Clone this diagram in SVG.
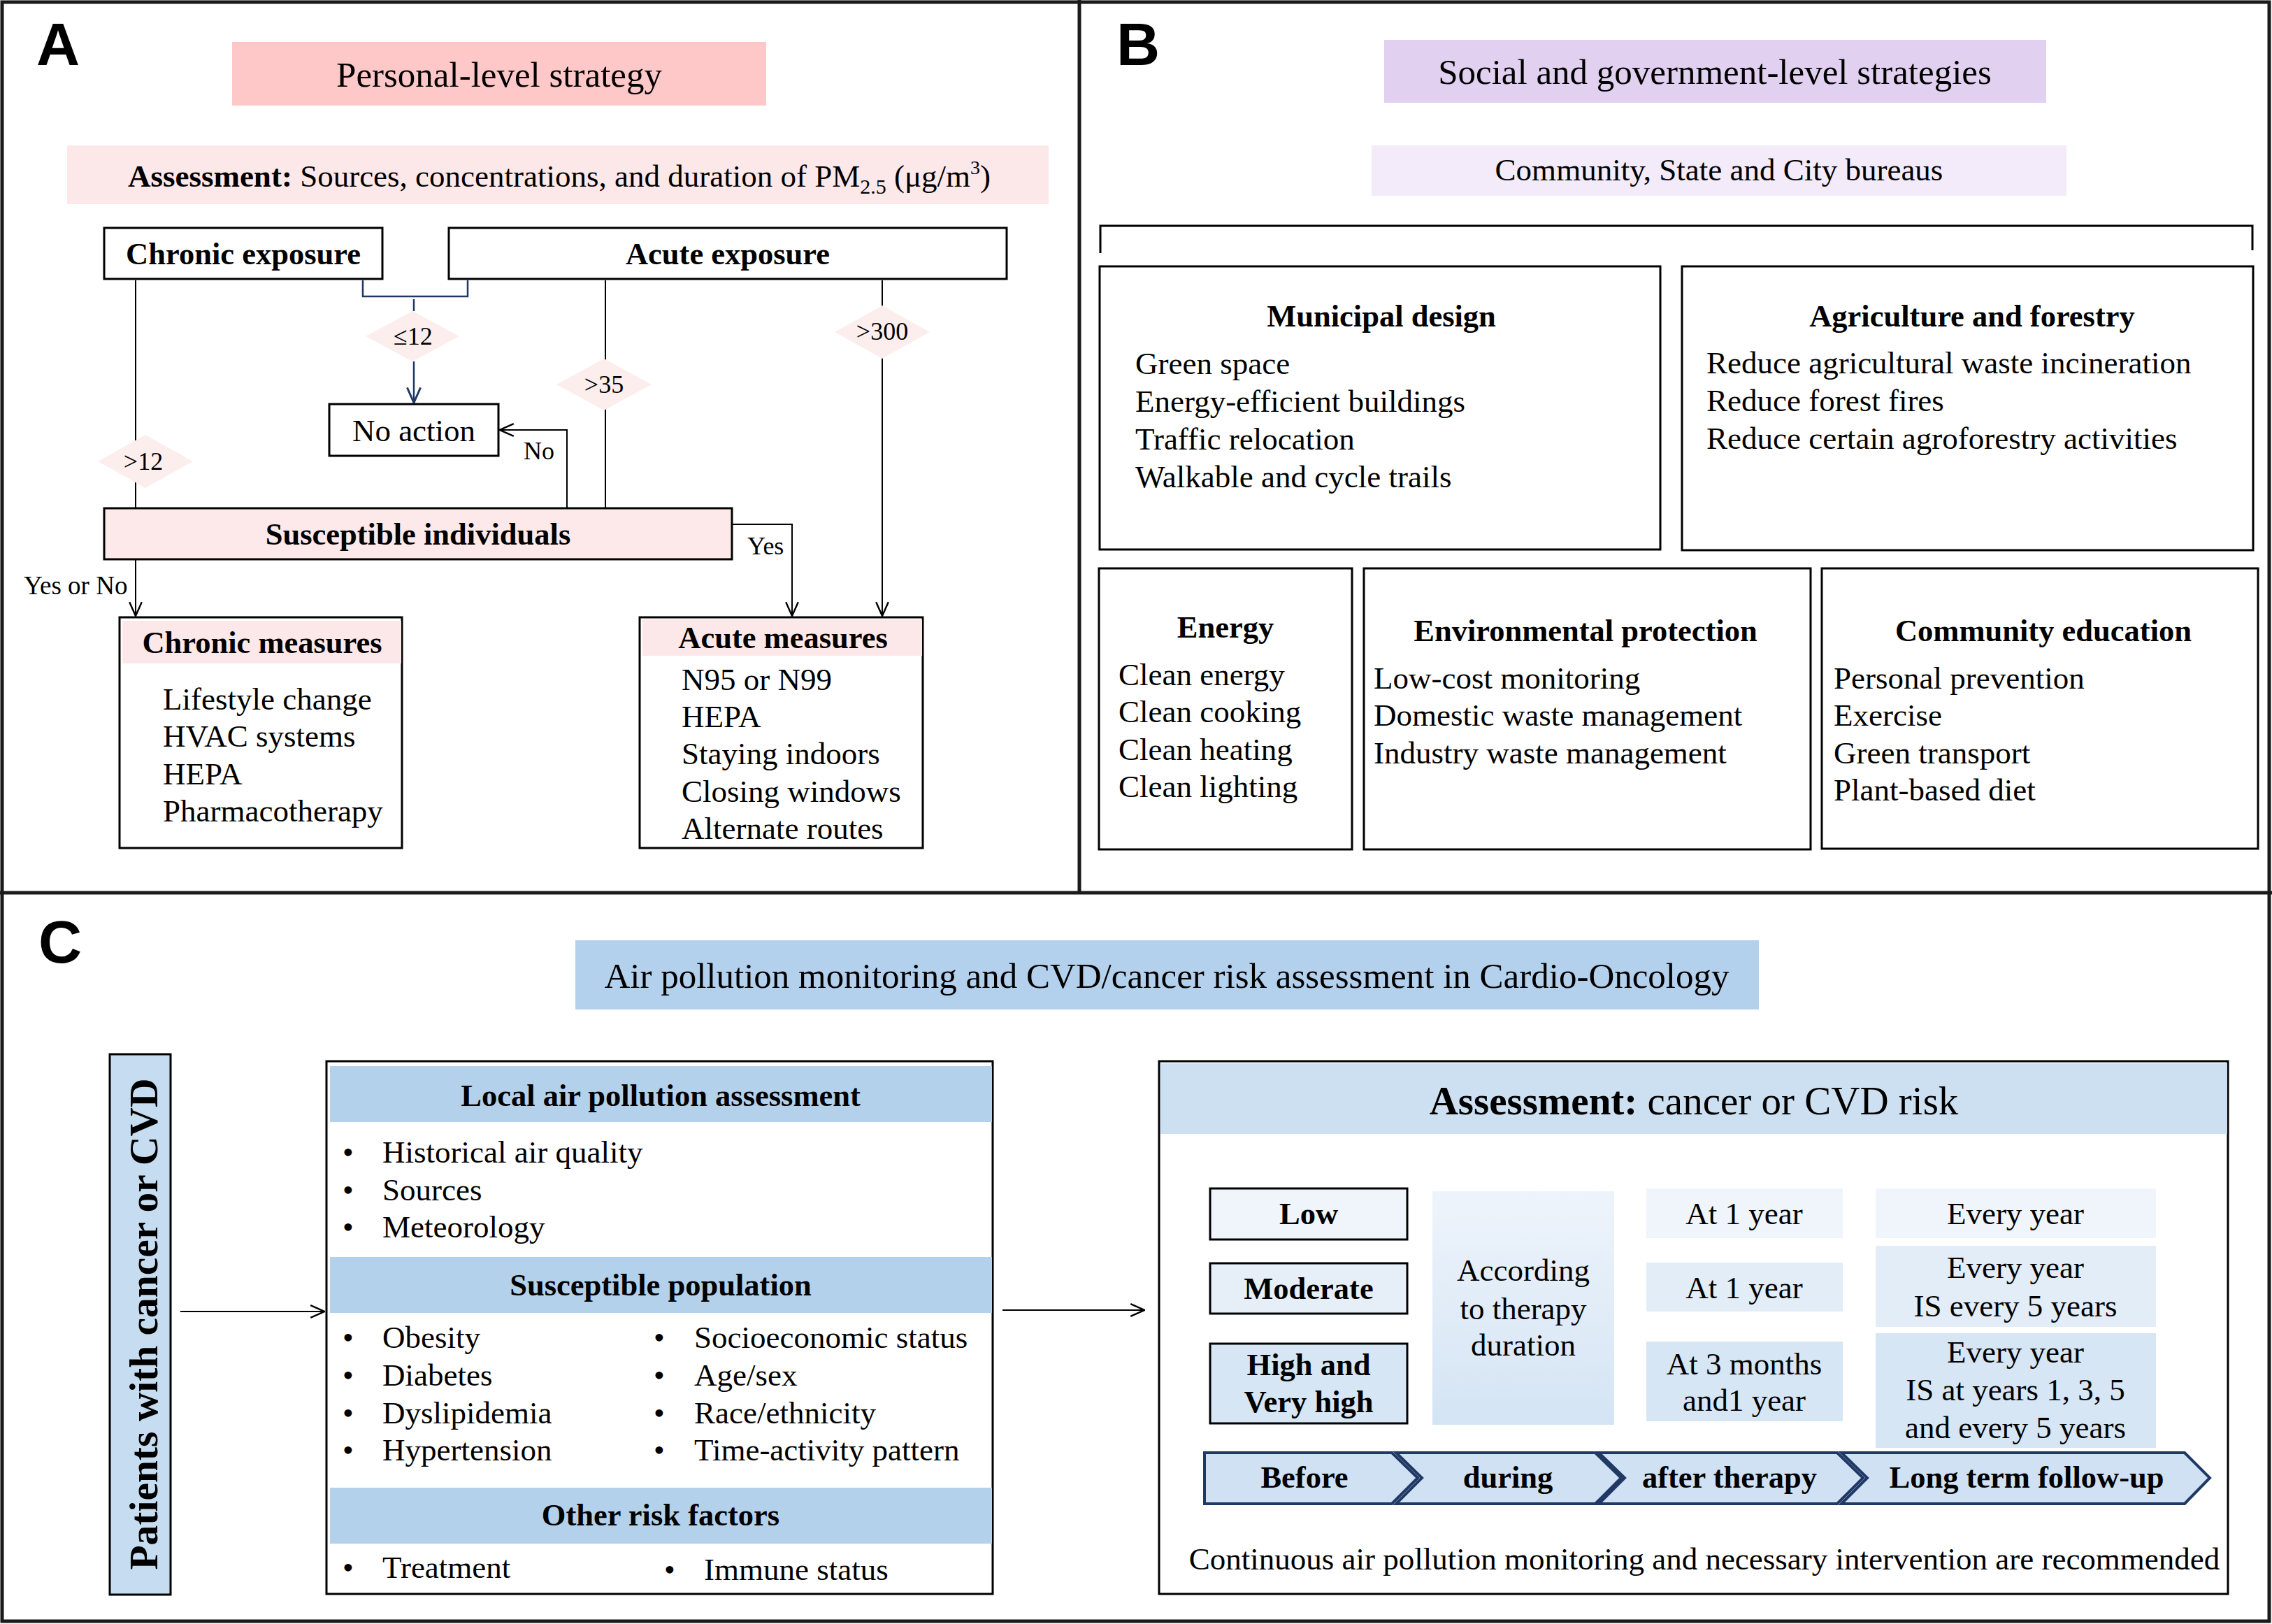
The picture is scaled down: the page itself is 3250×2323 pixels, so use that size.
<svg xmlns="http://www.w3.org/2000/svg" width="3250" height="2323" viewBox="0 0 3250 2323">
<style>
text{font-family:"Liberation Serif","Times New Roman",serif;fill:#000}
.lbl{font-family:"Liberation Sans",Arial,sans-serif;font-weight:bold;font-size:86px}
.t50{font-size:51px}
.t44{font-size:45px}
.b44{font-size:44.5px;font-weight:bold}
.t37{font-size:37px}
.t36{font-size:36px}
.mid{text-anchor:middle}
.box{fill:#fff;stroke:#000;stroke-width:3}
.frame{fill:none;stroke:#1a1a1a;stroke-width:5}
.ln{fill:none;stroke:#000;stroke-width:2}
.bl{fill:none;stroke:#203864;stroke-width:2.5}
.dia{fill:#fdeeee}
.pinkband{fill:#fde8e9}
.blueband{fill:#b4d1ec}
.chev{fill:#cfe1f3;stroke:#1f3864;stroke-width:4;stroke-linejoin:miter}
</style>
<defs>
<marker id="ah" viewBox="0 0 20 20" refX="19" refY="10" markerWidth="22" markerHeight="22" markerUnits="userSpaceOnUse" orient="auto">
<path d="M1,2 L19,10 L1,18" fill="none" stroke="#000" stroke-width="2.2"/>
</marker>
<marker id="ahb" viewBox="0 0 20 20" refX="19" refY="10" markerWidth="24" markerHeight="24" markerUnits="userSpaceOnUse" orient="auto">
<path d="M1,2 L19,10 L1,18" fill="none" stroke="#203864" stroke-width="2.4"/>
</marker>
<linearGradient id="gAcc" x1="0" y1="0" x2="0" y2="1">
<stop offset="0" stop-color="#eef4fb"/>
<stop offset="1" stop-color="#d4e4f4"/>
</linearGradient>
</defs>
<rect width="3250" height="2323" fill="#fff"/>

<g id="frames">
<rect class="frame" x="3" y="3" width="3243" height="2316"/>
<line class="frame" x1="0" y1="1277" x2="3250" y2="1277"/>
<line class="frame" x1="1544" y1="0" x2="1544" y2="1277"/>
<text class="lbl" x="52" y="93">A</text>
<text class="lbl" x="1597" y="93">B</text>
<text class="lbl" x="55" y="1377">C</text>
</g>

<!-- Panel A -->
<g id="personal-title">
<rect x="332" y="60" width="764" height="91" fill="#ffc8c8"/>
<text class="t50 mid" x="714" y="124">Personal-level strategy</text>
</g>
<g id="assessment-pm">
<rect x="96" y="208" width="1404" height="84" fill="#fde8e9"/>
<text class="t44 mid" x="800" y="267"><tspan font-weight="bold">Assessment:</tspan> Sources, concentrations, and duration of PM<tspan font-size="30" dy="10">2.5</tspan><tspan dy="-10"> (μg/m</tspan><tspan font-size="28" dy="-18">3</tspan><tspan dy="18">)</tspan></text>
</g>
<g id="chronic-exposure">
<rect class="box" x="149" y="326" width="398" height="73"/>
<text class="b44 mid" x="348" y="378">Chronic exposure</text>
</g>
<g id="acute-exposure">
<rect class="box" x="642" y="326" width="798" height="73"/>
<text class="b44 mid" x="1041" y="378">Acute exposure</text>
</g>
<g id="no-action">
<rect class="box" x="471" y="578" width="242" height="74"/>
<text class="t44 mid" x="592" y="631">No action</text>
</g>
<g id="susceptible-individuals">
<rect class="box" x="149" y="727" width="898" height="73" style="fill:#fde8ea"/>
<text class="b44 mid" x="598" y="779">Susceptible individuals</text>
</g>
<g id="chronic-measures">
<rect class="box" x="171" y="883" width="404" height="330"/>
<rect class="pinkband" x="175" y="888" width="399" height="61"/>
<text class="b44 mid" x="375" y="934">Chronic measures</text>
<text class="t44" x="233" y="1015">Lifestyle change</text>
<text class="t44" x="233" y="1068">HVAC systems</text>
<text class="t44" x="233" y="1122">HEPA</text>
<text class="t44" x="233" y="1175">Pharmacotherapy</text>
</g>
<g id="acute-measures">
<rect class="box" x="915" y="883" width="405" height="330"/>
<rect class="pinkband" x="919" y="886" width="400" height="52"/>
<text class="b44 mid" x="1120" y="927">Acute measures</text>
<text class="t44" x="975" y="987">N95 or N99</text>
<text class="t44" x="975" y="1040">HEPA</text>
<text class="t44" x="975" y="1093">Staying indoors</text>
<text class="t44" x="975" y="1147">Closing windows</text>
<text class="t44" x="975" y="1200">Alternate routes</text>
</g>

<g id="connectors">
<line class="ln" x1="194" y1="401" x2="194" y2="727"/>
<polyline class="bl" points="519,401 519,424 669,424 669,401"/>
<line class="bl" x1="592" y1="428" x2="592" y2="445"/>
<line class="bl" x1="592" y1="517" x2="592" y2="576" marker-end="url(#ahb)"/>
<line class="ln" x1="866" y1="401" x2="866" y2="727"/>
<line class="ln" x1="1262" y1="401" x2="1262" y2="881" marker-end="url(#ah)"/>
<polyline class="ln" points="811,727 811,615 715,615" marker-end="url(#ah)"/>
<polyline class="ln" points="1047,750 1133,750 1133,881" marker-end="url(#ah)"/>
<line class="ln" x1="194" y1="800" x2="194" y2="881" marker-end="url(#ah)"/>
<line class="ln" x1="258" y1="1876" x2="464" y2="1876" marker-end="url(#ah)"/>
<line class="ln" x1="1434" y1="1874" x2="1637" y2="1874" marker-end="url(#ah)"/>
<text class="t36" x="749" y="657">No</text>
<text class="t36" x="1069" y="793">Yes</text>
<text class="t37" x="34" y="850">Yes or No</text>
</g>

<g id="d-gt12">
<polygon class="dia" points="208,622 276,660 208,698 140,660"/>
<text class="t36 mid" x="205" y="672">&gt;12</text>
</g>
<g id="d-le12">
<polygon class="dia" points="590,445 657,481 590,517 523,481"/>
<text class="t36 mid" x="591" y="493">≤12</text>
</g>
<g id="d-gt35">
<polygon class="dia" points="864,513 932,550 864,587 796,550"/>
<text class="t36 mid" x="864" y="562">&gt;35</text>
</g>
<g id="d-gt300">
<polygon class="dia" points="1262,437 1330,475 1262,513 1194,475"/>
<text class="t36 mid" x="1262" y="486">&gt;300</text>
</g>

<!-- Panel B -->
<g id="social-title">
<rect x="1980" y="57" width="947" height="90" fill="#e2d0f0"/>
<text class="t50 mid" x="2453" y="120">Social and government-level strategies</text>
</g>
<g id="community-bureaus">
<rect x="1962" y="208" width="994" height="72" fill="#f3eafa"/>
<text class="t44 mid" x="2459" y="258">Community, State and City bureaus</text>
</g>
<g id="bracket-b">
<polyline class="ln" points="1574,362 1574,323 3222,323 3222,358" style="stroke-width:3"/>
</g>
<g id="municipal-design">
<rect class="box" x="1573" y="381" width="802" height="405"/>
<text class="b44 mid" x="1976" y="467">Municipal design</text>
<text class="t44" x="1624" y="535">Green space</text>
<text class="t44" x="1624" y="589">Energy-efficient buildings</text>
<text class="t44" x="1624" y="643">Traffic relocation</text>
<text class="t44" x="1624" y="697">Walkable and cycle trails</text>
</g>
<g id="agriculture-forestry">
<rect class="box" x="2406" y="381" width="817" height="406"/>
<text class="b44 mid" x="2821" y="467">Agriculture and forestry</text>
<text class="t44" x="2441" y="534">Reduce agricultural waste incineration</text>
<text class="t44" x="2441" y="588">Reduce forest fires</text>
<text class="t44" x="2441" y="642">Reduce certain agroforestry activities</text>
</g>
<g id="energy">
<rect class="box" x="1572" y="813" width="362" height="402"/>
<text class="b44 mid" x="1753" y="912">Energy</text>
<text class="t44" x="1600" y="980">Clean energy</text>
<text class="t44" x="1600" y="1033">Clean cooking</text>
<text class="t44" x="1600" y="1087">Clean heating</text>
<text class="t44" x="1600" y="1140">Clean lighting</text>
</g>
<g id="environmental-protection">
<rect class="box" x="1951" y="813" width="639" height="402"/>
<text class="b44 mid" x="2268" y="917">Environmental protection</text>
<text class="t44" x="1965" y="985">Low-cost monitoring</text>
<text class="t44" x="1965" y="1038">Domestic waste management</text>
<text class="t44" x="1965" y="1092">Industry waste management</text>
</g>
<g id="community-education">
<rect class="box" x="2606" y="813" width="624" height="401"/>
<text class="b44 mid" x="2923" y="917">Community education</text>
<text class="t44" x="2623" y="985">Personal prevention</text>
<text class="t44" x="2623" y="1038">Exercise</text>
<text class="t44" x="2623" y="1092">Green transport</text>
<text class="t44" x="2623" y="1145">Plant-based diet</text>
</g>

<!-- Panel C -->
<g id="c-title">
<rect x="823" y="1345" width="1693" height="99" fill="#b3d0ec"/>
<text class="mid" x="1669" y="1413" font-size="51">Air pollution monitoring and CVD/cancer risk assessment in Cardio-Oncology</text>
</g>
<g id="patients-bar">
<rect x="157" y="1508" width="87" height="773" fill="#c6ddf1" stroke="#000" stroke-width="3"/>
<text transform="translate(225,1894) rotate(-90)" class="mid" font-size="58" font-weight="bold" textLength="703" lengthAdjust="spacingAndGlyphs">Patients with cancer or CVD</text>
</g>
<g id="local-assessment">
<rect class="box" x="467" y="1518" width="953" height="762"/>
<rect class="blueband" x="472" y="1525" width="947" height="80"/>
<text class="b44 mid" x="945" y="1582">Local air pollution assessment</text>
<text class="t44" x="490" y="1663">•</text><text class="t44" x="547" y="1663">Historical air quality</text>
<text class="t44" x="490" y="1717">•</text><text class="t44" x="547" y="1717">Sources</text>
<text class="t44" x="490" y="1770">•</text><text class="t44" x="547" y="1770">Meteorology</text>
<rect class="blueband" x="472" y="1798" width="947" height="80"/>
<text class="b44 mid" x="945" y="1853">Susceptible population</text>
<text class="t44" x="490" y="1928">•</text><text class="t44" x="547" y="1928">Obesity</text>
<text class="t44" x="490" y="1982">•</text><text class="t44" x="547" y="1982">Diabetes</text>
<text class="t44" x="490" y="2036">•</text><text class="t44" x="547" y="2036">Dyslipidemia</text>
<text class="t44" x="490" y="2089">•</text><text class="t44" x="547" y="2089">Hypertension</text>
<text class="t44" x="935" y="1928">•</text><text class="t44" x="993" y="1928">Socioeconomic status</text>
<text class="t44" x="935" y="1982">•</text><text class="t44" x="993" y="1982">Age/sex</text>
<text class="t44" x="935" y="2036">•</text><text class="t44" x="993" y="2036">Race/ethnicity</text>
<text class="t44" x="935" y="2089">•</text><text class="t44" x="993" y="2089">Time-activity pattern</text>
<rect class="blueband" x="472" y="2128" width="947" height="80"/>
<text class="b44 mid" x="945" y="2182">Other risk factors</text>
<text class="t44" x="490" y="2257">•</text><text class="t44" x="547" y="2257">Treatment</text>
<text class="t44" x="950" y="2260">•</text><text class="t44" x="1007" y="2260">Immune status</text>
</g>
<g id="risk-assessment">
<rect class="box" x="1658" y="1518" width="1529" height="762"/>
<rect x="1660" y="1521" width="1526" height="101" fill="#cde0f2"/>
<text class="mid" x="2423" y="1594" font-size="57"><tspan font-weight="bold">Assessment:</tspan> cancer or CVD risk</text>
<text class="t44 mid" x="2438" y="2245">Continuous air pollution monitoring and necessary intervention are recommended</text>
</g>
<g id="risk-low">
<rect x="1731" y="1700" width="282" height="73" fill="#f0f5fb" stroke="#000" stroke-width="3"/>
<text class="b44 mid" x="1872" y="1751">Low</text>
</g>
<g id="risk-moderate">
<rect x="1731" y="1807" width="282" height="72" fill="#e6eff8" stroke="#000" stroke-width="3"/>
<text class="b44 mid" x="1872" y="1858">Moderate</text>
</g>
<g id="risk-high">
<rect x="1731" y="1922" width="282" height="114" fill="#d6e6f5" stroke="#000" stroke-width="3"/>
<text class="b44 mid" x="1872" y="1967">High and</text>
<text class="b44 mid" x="1872" y="2020">Very high</text>
</g>
<g id="according-therapy">
<rect x="2049" y="1704" width="260" height="334" fill="url(#gAcc)"/>
<text class="t44 mid" x="2179" y="1832">According</text>
<text class="t44 mid" x="2179" y="1887">to therapy</text>
<text class="t44 mid" x="2179" y="1939">duration</text>
</g>
<g id="after-1">
<rect x="2355" y="1700" width="281" height="71" fill="#f0f5fb"/>
<text class="t44 mid" x="2495" y="1751">At 1 year</text>
</g>
<g id="after-2">
<rect x="2355" y="1806" width="281" height="70" fill="#e3edf8"/>
<text class="t44 mid" x="2495" y="1857">At 1 year</text>
</g>
<g id="after-3">
<rect x="2355" y="1919" width="281" height="114" fill="#d6e6f5"/>
<text class="t44 mid" x="2495" y="1966">At 3 months</text>
<text class="t44 mid" x="2495" y="2018">and1 year</text>
</g>
<g id="follow-1">
<rect x="2683" y="1700" width="401" height="71" fill="#f0f5fb"/>
<text class="t44 mid" x="2883" y="1751">Every year</text>
</g>
<g id="follow-2">
<rect x="2683" y="1782" width="401" height="116" fill="#e3edf8"/>
<text class="t44 mid" x="2883" y="1828">Every year</text>
<text class="t44 mid" x="2883" y="1883">IS every 5 years</text>
</g>
<g id="follow-3">
<rect x="2683" y="1907" width="401" height="164" fill="#d6e6f5"/>
<text class="t44 mid" x="2883" y="1949">Every year</text>
<text class="t44 mid" x="2883" y="2003">IS at years 1, 3, 5</text>
<text class="t44 mid" x="2883" y="2057">and every 5 years</text>
</g>
<g id="chev-before">
<polygon class="chev" points="1723,2078 1991,2078 2028,2114 1991,2151 1723,2151"/>
<text class="b44 mid" x="1866" y="2128">Before</text>
</g>
<g id="chev-during">
<polygon class="chev" points="1997,2078 2282,2078 2319,2114 2282,2151 1997,2151 2034,2114"/>
<text class="b44 mid" x="2157" y="2128">during</text>
</g>
<g id="chev-after">
<polygon class="chev" points="2287,2078 2628,2078 2665,2114 2628,2151 2287,2151 2324,2114"/>
<text class="b44 mid" x="2474" y="2128">after therapy</text>
</g>
<g id="chev-long">
<polygon class="chev" points="2634,2078 3125,2078 3161,2114 3125,2151 2634,2151 2671,2114"/>
<text class="b44 mid" x="2899" y="2128">Long term follow-up</text>
</g>
</svg>
